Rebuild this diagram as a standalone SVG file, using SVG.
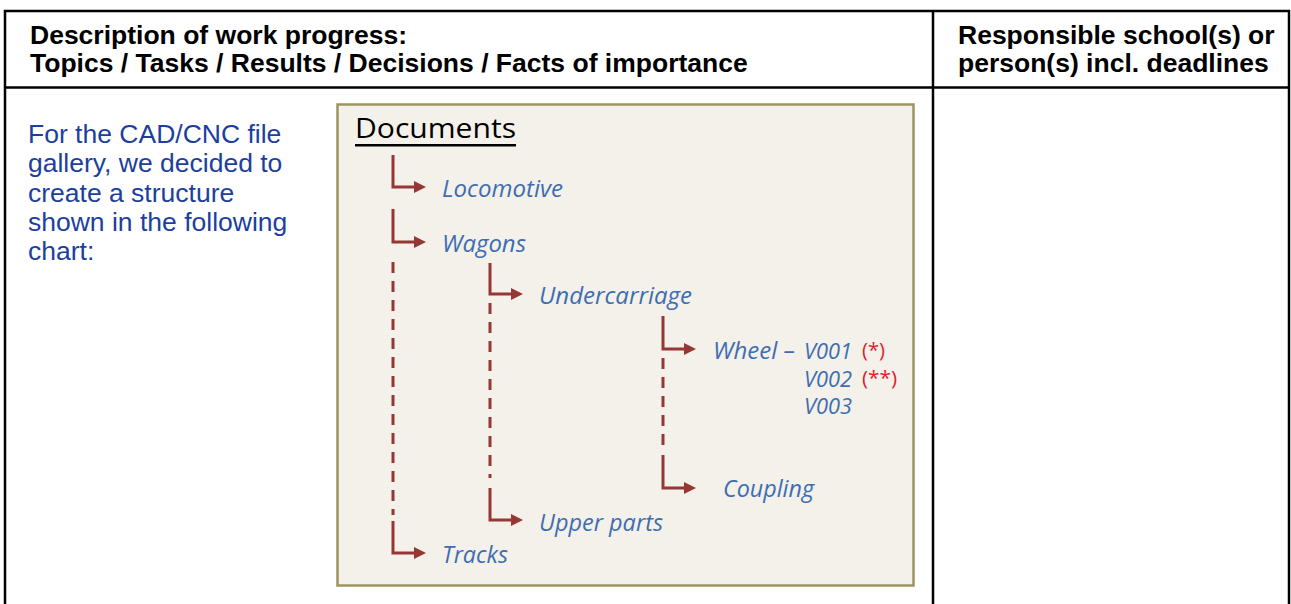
<svg xmlns="http://www.w3.org/2000/svg" width="1291" height="604" viewBox="0 0 1291 604">
  <defs>
    <marker id="arr" markerUnits="userSpaceOnUse" markerWidth="13" markerHeight="12" refX="0" refY="6" orient="auto">
      <path d="M0,0 L12,6 L0,12 z" fill="#953735"/>
    </marker>
    <style>
      .grid { stroke:#000; stroke-width:2.5; fill:none; }
      .hdr { font-family:"Liberation Sans", Arial, sans-serif; font-weight:bold; font-size:26.5px; fill:#000; }
      .intro { font-family:"Liberation Sans", Arial, sans-serif; font-size:26.5px; fill:#1c3f9e; }
      .conn { stroke:#953735; stroke-width:3; fill:none; }
      .dash { stroke:#953735; stroke-width:3; fill:none; stroke-dasharray:11 8; }
      .lbl { font-family:"Open Sans", "Noto Sans", sans-serif; font-style:italic; font-size:23.5px; fill:#3f6db1; }
      .ver { font-family:"Open Sans", "Noto Sans", sans-serif; font-style:italic; font-size:21px; fill:#3f6db1; }
      .star { font-family:"Open Sans", "Noto Sans", sans-serif; font-size:20px; fill:#e0202a; }
      .title { font-family:"Open Sans", "Noto Sans", sans-serif; font-size:28px; fill:#000; }
    </style>
  </defs>
  <rect x="0" y="0" width="1291" height="604" fill="#fff"/>
  <g id="table">
    <path class="grid" d="M5,604 V11 H1289 V604 M5,87.5 H1289 M933,11 V604"/>
    <text class="hdr" x="30" y="44">Description of work progress:</text>
    <text class="hdr" x="30" y="72">Topics / Tasks / Results / Decisions / Facts of importance</text>
    <text class="hdr" x="958" y="44">Responsible school(s) or</text>
    <text class="hdr" x="958" y="72">person(s) incl. deadlines</text>
  </g>
  <g id="intro">
    <text class="intro" x="28" y="143">For the CAD/CNC file</text>
    <text class="intro" x="28" y="172">gallery, we decided to</text>
    <text class="intro" x="28" y="202">create a structure</text>
    <text class="intro" x="28" y="231">shown in the following</text>
    <text class="intro" x="28" y="260">chart:</text>
  </g>
  <g id="chart-frame">
    <rect x="337.5" y="104.5" width="576" height="481" fill="#f3f1ea" stroke="#9d9461" stroke-width="2.5"/>
  </g>
  <g id="node-documents">
    <text class="title" x="355" y="138" textLength="161" lengthAdjust="spacingAndGlyphs">Documents</text>
    <rect x="355" y="144" width="161" height="2.5" fill="#000"/>
  </g>
  <g id="connectors">
    <path class="conn" d="M393,155 V187 H414" marker-end="url(#arr)"/>
    <path class="conn" d="M393,209 V242 H414" marker-end="url(#arr)"/>
    <path class="dash" d="M393,262 V515"/>
    <path class="conn" d="M393,521 V553 H414" marker-end="url(#arr)"/>
    <path class="conn" d="M490,263 V294 H511" marker-end="url(#arr)"/>
    <path class="dash" d="M490,303 V478"/>
    <path class="conn" d="M490,488 V520 H511" marker-end="url(#arr)"/>
    <path class="conn" d="M663,316 V349 H684" marker-end="url(#arr)"/>
    <path class="dash" d="M663,358 V448"/>
    <path class="conn" d="M663,455 V488 H684" marker-end="url(#arr)"/>
  </g>
  <g id="node-locomotive"><text class="lbl" x="442" y="197" textLength="121" lengthAdjust="spacingAndGlyphs">Locomotive</text></g>
  <g id="node-wagons"><text class="lbl" x="442" y="252" textLength="84" lengthAdjust="spacingAndGlyphs">Wagons</text></g>
  <g id="node-undercarriage"><text class="lbl" x="539" y="304" textLength="153" lengthAdjust="spacingAndGlyphs">Undercarriage</text></g>
  <g id="node-wheel">
    <text class="lbl" x="713" y="359" textLength="82" lengthAdjust="spacingAndGlyphs">Wheel –</text>
    <text class="ver" x="804" y="359" textLength="48" lengthAdjust="spacingAndGlyphs">V001</text>
    <text class="star" x="862" y="357" textLength="23" lengthAdjust="spacingAndGlyphs">(*)</text>
    <text class="ver" x="804" y="387" textLength="48" lengthAdjust="spacingAndGlyphs">V002</text>
    <text class="star" x="862" y="385" textLength="35" lengthAdjust="spacingAndGlyphs">(**)</text>
    <text class="ver" x="804" y="414" textLength="48" lengthAdjust="spacingAndGlyphs">V003</text>
  </g>
  <g id="node-coupling"><text class="lbl" x="723" y="497" textLength="91" lengthAdjust="spacingAndGlyphs">Coupling</text></g>
  <g id="node-upper-parts"><text class="lbl" x="539" y="531" textLength="124" lengthAdjust="spacingAndGlyphs">Upper parts</text></g>
  <g id="node-tracks"><text class="lbl" x="442" y="563" textLength="66" lengthAdjust="spacingAndGlyphs">Tracks</text></g>
</svg>
